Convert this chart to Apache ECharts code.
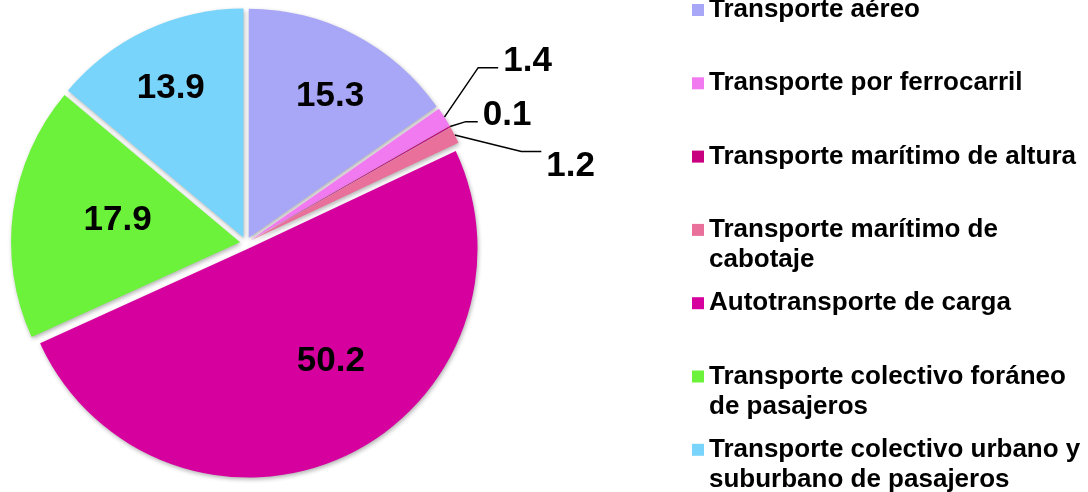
<!DOCTYPE html>
<html>
<head>
<meta charset="utf-8">
<script src="https://cdn.jsdelivr.net/npm/echarts@6/dist/echarts.min.js"></script>
<style>
  html, body { margin: 0; padding: 0; background: #fff; }
  #chart { width: 1088px; height: 492px; }
</style>
</head>
<body>
<div id="chart"></div>
<script>
// datos
const categories = [
  "Transporte aéreo",
  "Transporte por ferrocarril",
  "Transporte marítimo de altura",
  "Transporte marítimo de\ncabotaje",
  "Autotransporte de carga",
  "Transporte colectivo foráneo\nde pasajeros",
  "Transporte colectivo urbano y\nsuburbano de pasajeros"
];
const shares = [15.3, 1.4, 0.1, 1.2, 50.2, 17.9, 13.9];
const colors = ["#a8a6f6", "#f27af0", "#c8007f", "#e8709a", "#d6009e", "#6cf23a", "#78d4fa"];

// ajustes de etiquetas (solo estilo)
const insideShift = { 0: [27, -37], 4: [33, 6], 5: [-6, -6], 6: [-23, -43] };
const lineLen = { 1: 40, 2: 18, 3: 75 };
const lineLen2 = { 1: 20, 2: 12, 3: 20 };
const elbowShift = { 1: -28, 2: 4, 3: 51 };
const labelExtra = { 1: -6, 2: -6, 3: 15 };

const LH = 30;
const legends = categories.map(function (name, i) {
  const twoLines = name.indexOf("\n") >= 0;
  const yc = 10 + 73.3 * i;
  return {
    orient: "vertical",
    left: 692,
    top: twoLines ? yc - 45 : yc - 15,
    padding: 0,
    itemWidth: 12,
    itemHeight: 12,
    icon: "rect",
    selectedMode: false,
    data: [name],
    // línea vacía arriba para que el icono quede junto a la primera línea
    formatter: function (n) {
      return n.indexOf("\n") >= 0 ? "\u00a0\n" + n : n;
    },
    textStyle: {
      fontFamily: "Liberation Sans, Arial",
      fontSize: 26,
      fontWeight: "bold",
      color: "#000",
      lineHeight: LH
    }
  };
});

const chart = echarts.init(document.getElementById("chart"));
chart.setOption({
  animation: false,
  legend: legends,
  series: [{
    type: "pie",
    center: [246, 243],
    radius: 229,
    startAngle: 90,
    clockwise: true,
    selectedMode: "multiple",
    selectedOffset: 6,
    avoidLabelOverlap: false,
    select: { itemStyle: { borderWidth: 0 } },
    emphasis: { disabled: true },
    itemStyle: {
      shadowBlur: 4,
      shadowOffsetX: 1,
      shadowOffsetY: 2,
      shadowColor: "rgba(0,0,0,0.3)"
    },
    label: {
      formatter: "{c}",
      fontFamily: "Liberation Sans, Arial",
      fontSize: 35,
      fontWeight: "bold",
      color: "#000"
    },
    data: shares.map(function (v, i) {
      const outside = v < 5;
      return {
        name: categories[i],
        value: v,
        selected: true,
        itemStyle: { color: colors[i] },
        label: { position: outside ? "outside" : "inside" },
        labelLine: outside
          ? { show: true, length: lineLen[i], length2: lineLen2[i], smooth: false,
              lineStyle: { color: "#000", width: 1.5 } }
          : { show: false }
      };
    }),
    labelLayout: function (p) {
      const i = p.dataIndex;
      if (insideShift[i]) {
        return { dx: insideShift[i][0], dy: insideShift[i][1] };
      }
      if (elbowShift[i] !== undefined && p.labelLinePoints) {
        const s = elbowShift[i];
        const pts = p.labelLinePoints;
        return {
          dy: s + labelExtra[i],
          labelLinePoints: [
            pts[0],
            [pts[1][0], pts[1][1] + s],
            [pts[2][0], pts[2][1] + s]
          ]
        };
      }
      return {};
    }
  }]
});
</script>
</body>
</html>
